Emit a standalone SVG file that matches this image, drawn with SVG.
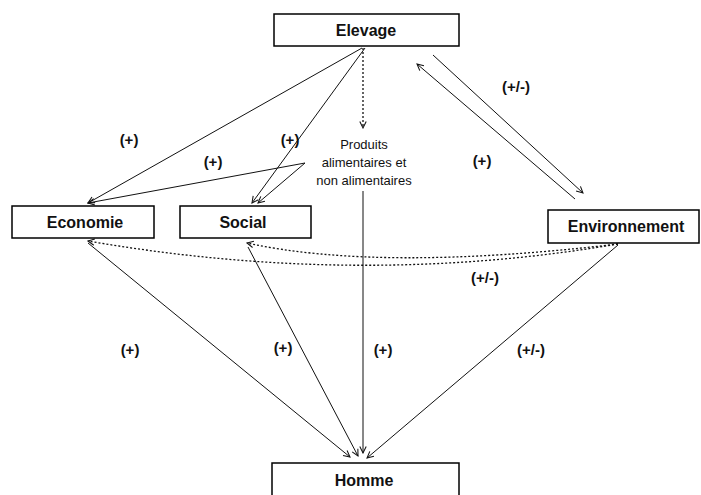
<svg xmlns="http://www.w3.org/2000/svg" width="701" height="495" viewBox="0 0 701 495">
<defs>
<style>
.box{fill:#fff;stroke:#000;stroke-width:1.5}
.lbl{font-family:"Liberation Sans",Arial,sans-serif;font-weight:bold;font-size:16px;text-anchor:middle;fill:#111}
.sign{font-family:"Liberation Sans",Arial,sans-serif;font-weight:bold;font-size:15px;text-anchor:middle;fill:#111}
.small{font-family:"Liberation Sans",Arial,sans-serif;font-size:13px;text-anchor:middle;fill:#111}
.ln{fill:none;stroke:#111;stroke-width:1}
.dot{fill:none;stroke:#111;stroke-width:1.3;stroke-dasharray:2 2}
</style>
<marker id="ah" viewBox="0 0 10 10" refX="9" refY="5" markerWidth="8" markerHeight="8" orient="auto" markerUnits="userSpaceOnUse">
<path d="M1,1 L9,5 L1,9" fill="none" stroke="#111" stroke-width="1.3"/>
</marker>
</defs>
<rect width="701" height="495" fill="#fff"/>
<g id="connectors">
<line class="ln" x1="362" y1="48" x2="88" y2="203" marker-end="url(#ah)"/>
<line class="ln" x1="365" y1="48" x2="252" y2="203" marker-end="url(#ah)"/>
<line class="ln" x1="305" y1="163" x2="88" y2="203" marker-end="url(#ah)"/>
<line class="ln" x1="305" y1="163" x2="258" y2="203" marker-end="url(#ah)"/>
<line class="dot" x1="363" y1="48" x2="363" y2="128" marker-end="url(#ah)"/>
<line class="ln" x1="433" y1="55" x2="583" y2="193" marker-end="url(#ah)"/>
<line class="ln" x1="575" y1="199" x2="417" y2="64" marker-end="url(#ah)"/>
<path class="dot" d="M618,244 Q360,288 88,241" marker-end="url(#ah)"/>
<path class="dot" d="M618,244 Q380,272 247,243" marker-end="url(#ah)"/>
<line class="ln" x1="88" y1="243" x2="350" y2="457" marker-end="url(#ah)"/>
<line class="ln" x1="248" y1="247" x2="358" y2="456" marker-end="url(#ah)"/>
<line class="ln" x1="363" y1="191" x2="363" y2="453" marker-end="url(#ah)"/>
<line class="ln" x1="618" y1="245" x2="367" y2="458" marker-end="url(#ah)"/>
</g>
<g id="elevage">
<rect class="box" x="274" y="14" width="185" height="32"/>
<text class="lbl" x="366" y="36">Elevage</text>
</g>
<g id="economie">
<rect class="box" x="12" y="206" width="142" height="32"/>
<text class="lbl" x="85" y="228">Economie</text>
</g>
<g id="social">
<rect class="box" x="180" y="206" width="131" height="32"/>
<text class="lbl" x="243" y="228">Social</text>
</g>
<g id="environnement">
<rect class="box" x="548" y="210" width="151" height="33"/>
<text class="lbl" x="626" y="232">Environnement</text>
</g>
<g id="homme">
<rect class="box" x="272" y="463" width="187" height="40"/>
<text class="lbl" x="364" y="486">Homme</text>
</g>
<g id="produits">
<text class="small" x="364" y="149">Produits</text>
<text class="small" x="364" y="167">alimentaires et</text>
<text class="small" x="364" y="185">non alimentaires</text>
</g>
<g id="labels">
<text class="sign" x="129" y="145">(+)</text>
<text class="sign" x="290" y="145">(+)</text>
<text class="sign" x="213" y="167">(+)</text>
<text class="sign" x="516" y="92">(+/-)</text>
<text class="sign" x="482" y="166">(+)</text>
<text class="sign" x="485" y="283">(+/-)</text>
<text class="sign" x="130" y="355">(+)</text>
<text class="sign" x="283" y="353">(+)</text>
<text class="sign" x="383" y="355">(+)</text>
<text class="sign" x="531" y="355">(+/-)</text>
</g>
</svg>
